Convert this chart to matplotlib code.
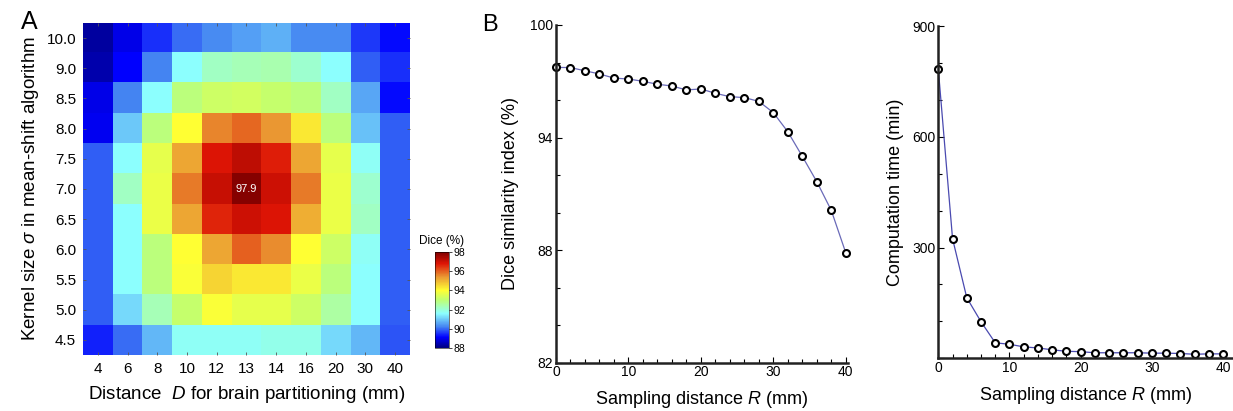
import numpy as np
import matplotlib
matplotlib.use('Agg')
import matplotlib.pyplot as plt
from matplotlib.colors import LinearSegmentedColormap

plt.rcParams['font.family'] = ['Liberation Sans', 'DejaVu Sans']
plt.rcParams['mathtext.fontset'] = 'custom'
plt.rcParams['mathtext.rm'] = 'Liberation Sans'
plt.rcParams['mathtext.it'] = 'Liberation Sans:italic'

# Panel A: Dice (%) for D (columns) x sigma (rows, top to bottom)
dist_D = ['4', '6', '8', '10', '12', '13', '14', '16', '20', '30', '40']
sigma = ['10.0', '9.0', '8.5', '8.0', '7.5', '7.0', '6.5', '6.0', '5.5', '5.0', '4.5']
dice = np.array([
    [88.3, 88.9, 89.5, 90.0, 90.3, 90.5, 90.7, 90.3, 90.3, 89.6, 89.2],
    [88.4, 89.1, 90.2, 91.6, 92.2, 92.3, 92.4, 92.1, 91.6, 89.9, 89.5],
    [88.9, 90.2, 91.6, 92.9, 93.2, 93.3, 93.1, 92.9, 92.2, 90.6, 89.2],
    [89.0, 91.0, 92.9, 94.0, 95.6, 95.9, 95.4, 94.3, 92.9, 90.9, 89.9],
    [89.9, 91.6, 93.6, 95.2, 96.8, 97.2, 96.7, 95.2, 93.6, 91.7, 89.9],
    [89.9, 92.2, 93.7, 95.7, 97.1, 97.9, 97.0, 95.7, 93.7, 92.1, 89.9],
    [89.9, 91.6, 93.7, 95.2, 96.6, 97.0, 96.8, 95.1, 93.7, 92.2, 89.9],
    [89.9, 91.6, 92.9, 94.0, 95.2, 96.0, 95.5, 94.0, 93.2, 91.7, 89.9],
    [89.9, 91.6, 92.9, 93.9, 94.6, 94.3, 94.3, 93.7, 92.9, 91.6, 89.9],
    [89.9, 91.2, 92.3, 93.1, 93.9, 93.6, 93.6, 93.2, 92.5, 91.6, 89.9],
    [89.4, 90.0, 90.8, 91.7, 91.7, 91.7, 91.8, 91.8, 91.2, 90.8, 89.8],
])

# Panel B: sampling distance R (mm)
R = [0, 2, 4, 6, 8, 10, 12, 14, 16, 18, 20, 22, 24, 26, 28, 30, 32, 34, 36, 38, 40]
dice_R = [97.74, 97.73, 97.56, 97.39, 97.17, 97.12, 97.0, 96.84, 96.75, 96.54, 96.59,
          96.36, 96.18, 96.13, 95.93, 95.33, 94.31, 93.0, 91.65, 90.12, 87.86]
time_R = [783, 324, 164, 99, 42, 38, 31, 28, 23, 19, 18, 15, 15, 15, 15, 14, 14, 13, 11, 12, 12]

# jet-like map, a bit washed out like the original
cmap = LinearSegmentedColormap.from_list('jet_soft', [
    (0.00, (0.0, 0.0, 0.5)),
    (0.11, (0.0, 0.0, 1.0)),
    (0.22, (0.27, 0.52, 0.95)),
    (0.36, (0.55, 1.0, 1.0)),
    (0.50, (0.75, 1.0, 0.45)),
    (0.60, (1.0, 1.0, 0.2)),
    (0.74, (0.92, 0.6, 0.2)),
    (0.88, (0.87, 0.08, 0.02)),
    (1.00, (0.5, 0.0, 0.0)),
])

fig = plt.figure(figsize=(12.33, 4.11), dpi=100)

# ---- Panel A heatmap
axA = fig.add_axes([0.0673, 0.1363, 0.2652, 0.8078])
im = axA.imshow(dice, cmap=cmap, vmin=88, vmax=98, aspect='auto', interpolation='nearest')
axA.set_xticks(range(len(dist_D)))
axA.set_xticklabels(dist_D, fontsize=11)
axA.set_yticks(range(len(sigma)))
axA.set_yticklabels(sigma, fontsize=11)
axA.tick_params(direction='in', length=2.5, width=0.6, color='#555555',
                top=True, right=True, pad=5)
for s in axA.spines.values():
    s.set_visible(False)
axA.set_xlabel(r'Distance  $\mathit{D}$ for brain partitioning (mm)', fontsize=13.5, labelpad=6)
axA.set_ylabel(r'Kernel size $\sigma$ in mean-shift algorithm', fontsize=13.5, labelpad=4)
imax = np.unravel_index(np.argmax(dice), dice.shape)
axA.text(imax[1], imax[0], f'{dice[imax]:.1f}', color='white', fontsize=8,
         ha='center', va='center')
fig.text(0.017, 0.93, 'A', fontsize=18)

# colorbar
cax = fig.add_axes([0.3528, 0.1533, 0.01135, 0.2336])
cb = fig.colorbar(im, cax=cax, ticks=[88, 90, 92, 94, 96, 98])
cb.outline.set_linewidth(0.4)
cax.tick_params(labelsize=7.5, length=2, width=0.5, pad=1)
cax.set_title('Dice (%)', fontsize=8.5, pad=6)

fig.text(0.391, 0.925, 'B', fontsize=17)

# ---- Panel B, left: Dice vs R
ax1 = fig.add_axes([0.4509, 0.1175, 0.2368, 0.8217])
ax1.plot(R, dice_R, '-', color='#6a6ab8', linewidth=0.9, marker='o', markersize=5,
         markerfacecolor='white', markeredgecolor='black', markeredgewidth=1.5, clip_on=False)
ax1.set_xlim(0, 40.3)
ax1.set_ylim(82, 100)
ax1.set_yticks([82, 88, 94, 100])
ax1.set_yticks(np.arange(82, 101, 2), minor=True)
ax1.set_xticks([0, 10, 20, 30, 40])
ax1.set_xticks(np.arange(0, 41, 2), minor=True)
ax1.set_xlabel(r'Sampling distance $\mathit{R}$ (mm)', fontsize=13, labelpad=7)
ax1.set_ylabel('Dice similarity index (%)', fontsize=13, labelpad=8)

# ---- Panel B, right: computation time vs R
ax2 = fig.add_axes([0.761, 0.1282, 0.239, 0.8085])
ax2.plot(R, time_R, '-', color='#4a4ab0', linewidth=0.9, marker='o', markersize=5,
         markerfacecolor='white', markeredgecolor='black', markeredgewidth=1.5, clip_on=False)
ax2.set_xlim(0, 41.4)
ax2.set_ylim(0, 900)
ax2.set_yticks([0, 300, 600, 900])
ax2.set_yticklabels(['', '300', '600', '900'])
ax2.set_yticks(np.arange(0, 901, 100), minor=True)
ax2.set_xticks([0, 10, 20, 30, 40])
ax2.set_xticks(np.arange(0, 41, 2), minor=True)
ax2.set_xlabel(r'Sampling distance $\mathit{R}$ (mm)', fontsize=13, labelpad=7)
ax2.set_ylabel('Computation time (min)', fontsize=13, labelpad=6)

for ax in (ax1, ax2):
    ax.spines['top'].set_visible(False)
    ax.spines['right'].set_visible(False)
    ax.spines['left'].set_linewidth(1.8)
    ax.spines['bottom'].set_linewidth(1.8)
    ax.spines['left'].set_color('#222222')
    ax.spines['bottom'].set_color('#222222')
    ax.tick_params(which='both', direction='in', width=0.8, labelsize=10, pad=2)
    ax.tick_params(which='major', length=4)
    ax.tick_params(which='minor', length=3)

plt.savefig('out.png', dpi=100)
